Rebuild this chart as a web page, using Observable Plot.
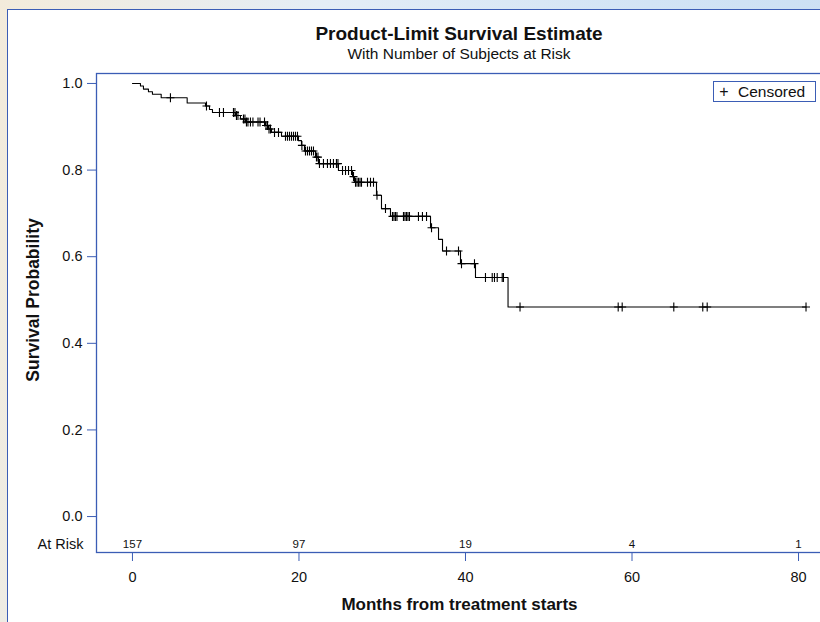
<!DOCTYPE html>
<html><head><meta charset="utf-8">
<script src="https://cdn.jsdelivr.net/npm/d3@7"></script>
<script src="https://cdn.jsdelivr.net/npm/@observablehq/plot@0.6"></script>
<style>
html,body{margin:0;padding:0;}
body{width:820px;height:622px;overflow:hidden;position:relative;
  background:linear-gradient(100deg,#f3ebdb 0%,#e4edf6 35%,#d2e4f5 70%,#c9def3 100%);
  font-family:"Liberation Sans",Arial,sans-serif;color:#111;}
#panel{position:absolute;left:7px;top:9px;width:840px;height:650px;background:#fff;border:1.5px solid #3b5db5;}
#title{position:absolute;left:96px;width:726px;top:23px;line-height:22px;text-align:center;font-weight:bold;font-size:19px;}
#subtitle{position:absolute;left:96px;width:726px;top:45px;line-height:18px;text-align:center;font-size:15.5px;}
#chart{position:absolute;left:0;top:0;width:826px;height:622px;}
#chart svg{max-width:none !important;}
#legend{position:absolute;left:713px;top:81px;width:101px;height:19px;border:1px solid #3b5db5;background:#fff;
  font-size:15.5px;line-height:19px;white-space:nowrap;}
#legend span.sym{display:inline-block;width:12px;margin-left:4px;text-align:center;font-size:16px;}
#legend span.lab{margin-left:8px;}
</style></head>
<body>
<div id="panel"></div>
<div id="chart"></div>
<div id="title">Product-Limit Survival Estimate</div>
<div id="subtitle">With Number of Subjects at Risk</div>
<div id="legend"><span class="sym">+</span><span class="lab">Censored</span></div>
<script>
// Kaplan-Meier step curve (months, survival after the step)
const stepTimes = [0, 0.96, 1.32, 1.92, 2.40, 3.45, 6.57, 8.77, 9.25, 9.61, 12.37, 12.97, 13.57, 15.98, 16.34, 16.70, 17.90, 19.94, 20.30, 20.66, 21.98, 22.34, 24.74, 26.43, 26.67, 29.31, 29.91, 30.99, 35.80, 36.76, 37.24, 39.40, 41.20, 45.11];
const stepSurv  = [1.000, 0.994, 0.987, 0.981, 0.975, 0.967, 0.955, 0.948, 0.940, 0.933, 0.926, 0.918, 0.911, 0.903, 0.895, 0.887, 0.878, 0.868, 0.857, 0.844, 0.830, 0.815, 0.799, 0.785, 0.772, 0.742, 0.711, 0.693, 0.667, 0.640, 0.613, 0.584, 0.552, 0.484];
// censoring times (months)
const censorTimes = [4.56, 8.89, 10.45, 10.93, 12.13, 12.31, 12.49, 12.67, 13.33, 13.51, 13.69, 13.87, 14.17, 14.47, 15.08, 15.32, 15.86, 16.04, 16.22, 16.40, 16.58, 17.06, 17.54, 18.38, 18.62, 18.86, 19.10, 19.34, 19.58, 19.82, 20.35, 20.78, 21.02, 21.26, 21.50, 21.74, 22.10, 22.28, 22.46, 22.94, 23.42, 23.78, 24.14, 24.50, 24.68, 25.23, 25.59, 25.95, 26.31, 26.55, 26.79, 26.97, 27.15, 27.33, 27.51, 28.23, 28.59, 28.95, 29.37, 30.39, 31.23, 31.41, 31.59, 31.77, 32.55, 32.73, 32.91, 33.09, 33.27, 34.35, 34.83, 35.32, 35.92, 37.72, 39.16, 39.52, 41.08, 42.40, 43.21, 43.48, 43.81, 44.41, 44.56, 46.55, 58.34, 58.82, 65.02, 68.50, 69.03, 80.90];
const atRiskTimes  = [0, 20, 40, 60, 80];
const atRiskCounts = [157, 97, 19, 4, 1];
const xTicks = [0, 20, 40, 60, 80];
const yTicks = [0, 0.2, 0.4, 0.6, 0.8, 1.0];

function survAt(t) {
  let s = stepSurv[0];
  for (let i = 0; i < stepTimes.length; i++) if (stepTimes[i] <= t) s = stepSurv[i];
  return s;
}
const lastT = d3.max(censorTimes);
const curve = stepTimes.map((t, i) => ({t, s: stepSurv[i]}));
curve.push({t: lastT, s: survAt(lastT)});
const censored = censorTimes.map(t => ({t, s: survAt(t)}));
const atRisk = atRiskTimes.map((t, i) => ({t, n: atRiskCounts[i]}));

// small "+" censor marker
const plusSymbol = {
  draw(ctx) { ctx.moveTo(-4, 0); ctx.lineTo(4, 0); ctx.moveTo(0, -4.5); ctx.lineTo(0, 4.5); }
};

const blue = "#3b5db5";
const font = '"Liberation Sans", Arial, sans-serif';

const chart = Plot.plot({
  width: 826, height: 622,
  marginLeft: 96, marginRight: 4, marginTop: 73, marginBottom: 70,
  style: {background: "transparent", fontFamily: font, fontSize: "14px", color: "#111", overflow: "visible"},
  x: {domain: [-4.32, 82.88], label: null},
  y: {domain: [-0.083, 1.023], label: null},
  marks: [
    Plot.axisY({ticks: yTicks, tickFormat: d3.format(".1f"), tickSize: 9, tickPadding: 5, stroke: blue, fill: "#111", label: null, fontSize: 14.5}),
    Plot.axisX({ticks: xTicks, tickFormat: d3.format("d"), tickSize: 9, tickPadding: 10, stroke: blue, fill: "#111", label: null, fontSize: 14.5}),
    Plot.frame({stroke: blue, strokeWidth: 1.3}),
    Plot.line(curve, {x: "t", y: "s", curve: "step-after", stroke: "#000", strokeWidth: 1.1}),
    Plot.dot(censored, {x: "t", y: "s", symbol: plusSymbol, r: 4, fill: "none", stroke: "#000", strokeWidth: 1.1}),
    Plot.text(atRisk, {x: "t", text: "n", frameAnchor: "bottom", lineAnchor: "middle", dy: -8, fontSize: 11.5, fill: "#111"}),
    Plot.text(["At Risk"], {frameAnchor: "bottom-left", lineAnchor: "middle", dx: -13, dy: -8, textAnchor: "end", fontSize: 14.5, fill: "#111"}),
    Plot.text(["Survival Probability"], {frameAnchor: "left", textAnchor: "middle", lineAnchor: "middle", dx: -63, dy: -13, rotate: -90, fontWeight: "bold", fontSize: 17.5, fill: "#111"}),
    Plot.text(["Months from treatment starts"], {frameAnchor: "bottom", textAnchor: "middle", lineAnchor: "middle", dy: 52, fontWeight: "bold", fontSize: 17, fill: "#111"})
  ]
});
document.getElementById("chart").appendChild(chart);
</script>
</body></html>
